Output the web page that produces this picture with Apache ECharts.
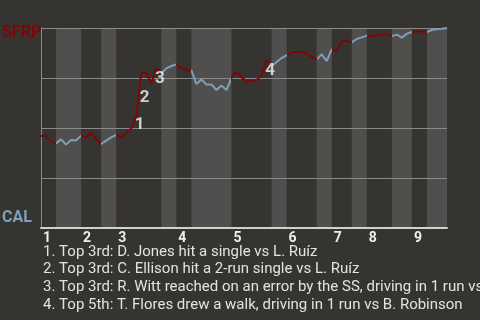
<!DOCTYPE html>
<html>
<head>
<meta charset="utf-8">
<script src="https://cdn.jsdelivr.net/npm/echarts@6/dist/echarts.min.js"></script>
<style>
html,body{margin:0;padding:0;background:#363431;}
#c{width:480px;height:320px;}
</style>
</head>
<body>
<div id="c"></div>
<script>
// Win probability for SFRP (0 = CAL wins, 100 = SFRP wins), one value per plate appearance
const winProb = [
  46, 46, 43.3, 42.3,
  44.3, 41.7, 44, 43.8, 46.2,
  45, 47.7, 44.5, 42,
  43.7, 45.3, 46.5,
  45.3, 47.3, 49.8, 56, 77.5, 77.6, 72.3, 79.8, 77.3,
  79.8, 81, 81.8,
  80, 79, 78.8,
  72, 74.3, 71.8, 71.8, 69, 71.2, 69, 75,
  78.2, 75.5, 73, 74, 74, 76.3, 84, 81,
  83, 85, 86.3,
  88, 88, 88, 87, 85.5, 84.3,
  86.8, 83.5, 89.3,
  88.5, 93.5, 93.5, 92.8,
  94.5, 95.3, 96.2,
  96, 96.5, 96.8, 96.8, 96,
  96.7, 95.2, 97.2, 98,
  98.2, 98.2, 98,
  99, 99.5, 99.6, 100
];
// plate-appearance index where each half inning starts (last = end of game)
const halfInningStarts = [0, 3, 8, 12, 15, 24, 27, 30, 38, 46, 49, 55, 58, 62, 65, 70, 74, 77, 81];
const inningLabels = ['1','2','3','4','5','6','7','8','9'];
// plate appearance index at which each annotated event ends
const eventIndex = [19, 20, 23, 45];
const eventLabels = ['1','2','3','4'];
const eventTexts = [
  '1. Top 3rd: D. Jones hit a single vs L. Ruíz',
  '2. Top 3rd: C. Ellison hit a 2-run single vs L. Ruíz',
  '3. Top 3rd: R. Witt reached on an error by the SS, driving in 1 run vs B. Woodall',
  '4. Top 5th: T. Flores drew a walk, driving in 1 run vs B. Robinson'
];
const awayTeam = 'SFRP';
const homeTeam = 'CAL';

const RED = '#7e0606';
const BLUE = '#7d9fb9';

const lastIdx = halfInningStarts[halfInningStarts.length - 1];
const inningStarts = halfInningStarts.filter((_, k) => k % 2 === 0 && k < halfInningStarts.length - 1);

const bands = [];
const pieces = [];
for (let k = 0; k < halfInningStarts.length - 1; k++) {
  const a = halfInningStarts[k], b = halfInningStarts[k + 1];
  if (k % 2 === 1) bands.push([a, b]);
  pieces.push({ gte: a, lt: (k === halfInningStarts.length - 2 ? b + 1 : b), color: k % 2 === 0 ? RED : BLUE });
}

const lineData = winProb.map((v, i) => [i, v]);
const eventData = eventIndex.map((i, k) => ({ value: [i - 0.5, (winProb[i - 1] + winProb[i]) / 2], name: eventLabels[k] }));

const chart = echarts.init(document.getElementById('c'), null, { renderer: 'canvas' });
chart.setOption({
  backgroundColor: '#363431',
  animation: false,
  grid: { left: 41, right: 33, top: 28, bottom: 92 },
  xAxis: {
    type: 'value', min: 0, max: lastIdx, offset: 1,
    axisLine: { show: true, lineStyle: { color: '#d0d0d0', width: 2 } },
    axisTick: { show: false },
    splitLine: { show: false },
    axisLabel: {
      customValues: inningStarts,
      formatter: (v) => inningLabels[inningStarts.indexOf(v)] || '',
      align: 'left', padding: [0, 0, 0, 2], margin: 2,
      color: '#eeeeee', fontSize: 14, fontWeight: 'bold', fontFamily: 'Roboto'
    }
  },
  yAxis: {
    type: 'value', min: 0, max: 100, interval: 25,
    axisLine: { show: true, lineStyle: { color: '#8a8a88', width: 1 } },
    axisTick: { show: false },
    axisLabel: { show: false },
    splitLine: { show: true, lineStyle: { color: '#8a8a88', width: 1 } }
  },
  visualMap: { show: false, type: 'piecewise', dimension: 0, seriesIndex: 1, pieces: pieces },
  series: [
    {
      type: 'custom', z: -1, silent: true,
      data: bands,
      encode: { x: [0, 1] },
      renderItem: function (params, api) {
        const s = api.coord([api.value(0), 100]);
        const e = api.coord([api.value(1), 0]);
        return { type: 'rect', shape: { x: s[0], y: s[1], width: e[0] - s[0], height: e[1] - s[1] }, style: { fill: '#504f4d' } };
      }
    },
    {
      type: 'line', data: lineData, showSymbol: false, symbol: 'none',
      lineStyle: { width: 2 }, z: 3
    },
    {
      type: 'scatter', data: eventData, symbolSize: 1,
      itemStyle: { color: 'rgba(0,0,0,0)' }, z: 4,
      label: {
        show: true, position: 'inside', offset: [6, 3],
        formatter: (p) => p.name,
        color: '#f2f2f2', fontSize: 17, fontWeight: 'bold', fontFamily: 'Roboto'
      }
    }
  ],
  graphic: [
    { type: 'text', left: 2, top: 25, style: { text: awayTeam, fill: RED, font: 'bold 16px Roboto' } },
    { type: 'text', left: 2, top: 210, style: { text: homeTeam, fill: BLUE, font: 'bold 16px Roboto' } }
  ].concat(eventTexts.map((t, k) => ({
    type: 'text', x: 43, y: 252 + k * 17.7,
    style: { text: t, fill: '#e2e2e2', font: '15px Roboto', textVerticalAlign: 'middle' }
  })))
});
</script>
</body>
</html>
